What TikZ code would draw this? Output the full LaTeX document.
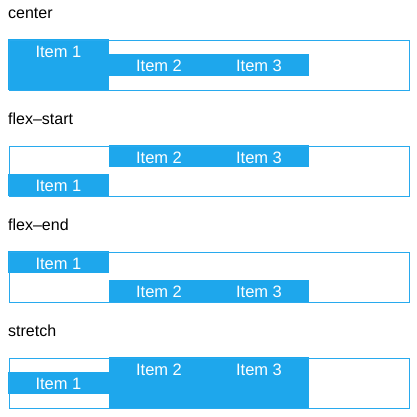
\documentclass[tikz,border=0pt]{standalone}
\usepackage{fontspec}
\setmainfont{Liberation Sans}
\definecolor{itemblue}{RGB}{30,167,236}
\definecolor{borderblue}{RGB}{40,170,238}
\tikzset{
  itembox/.style={fill=itemblue, draw=none, inner sep=0pt, anchor=north west},
  container/.style={draw=borderblue, line width=1pt, inner sep=0pt, anchor=north west, minimum width=400pt, minimum height=50pt},
  itemtext/.style={text=white, anchor=base, inner sep=0pt, font=\fontsize{16.5}{19}\selectfont},
  heading/.style={text=black, anchor=base west, inner sep=0pt, font=\fontsize{16}{19}\selectfont}
}
\begin{document}
\begin{tikzpicture}[x=1pt,y=-1pt]
\useasboundingbox (0,0) rectangle (417,416);

% ---------- center ----------
\node[heading] (h1) at (8,18.3) {center};
\node[itembox, minimum width=101pt, minimum height=51pt] (c1i1) at (8,39) {};
\node[itembox, minimum width=200pt, minimum height=22pt] (c1i23) at (109,54) {};
\node[container] (c1) at (8.5,39.5) {};
\node[itemtext] (c1t1) at (58.5,57) {Item 1};
\node[itemtext] (c1t2) at (159,71) {Item 2};
\node[itemtext] (c1t3) at (259,71) {Item 3};

% ---------- flex-start ----------
\node[heading] (h2) at (8,124) {flex–start};
\node[itembox, minimum width=101pt, minimum height=22pt] (c2i1) at (8,174) {};
\node[itembox, minimum width=200pt, minimum height=22pt] (c2i23) at (109,145) {};
\node[container] (c2) at (8.5,145.5) {};
\node[itemtext] (c2t1) at (58.5,191) {Item 1};
\node[itemtext] (c2t2) at (159,163) {Item 2};
\node[itemtext] (c2t3) at (259,163) {Item 3};

% ---------- flex-end ----------
\node[heading] (h3) at (8,230) {flex–end};
\node[itembox, minimum width=101pt, minimum height=22pt] (c3i1) at (8,251) {};
\node[itembox, minimum width=200pt, minimum height=22pt] (c3i23) at (109,280) {};
\node[container] (c3) at (8.5,251.5) {};
\node[itemtext] (c3t1) at (58.5,269) {Item 1};
\node[itemtext] (c3t2) at (159,297) {Item 2};
\node[itemtext] (c3t3) at (259,297) {Item 3};

% ---------- stretch ----------
\node[heading] (h4) at (8,336) {stretch};
\node[itembox, minimum width=101pt, minimum height=22pt] (c4i1) at (8,372) {};
\node[itembox, minimum width=200pt, minimum height=51pt] (c4i23) at (109,357) {};
\node[container] (c4) at (8.5,357.5) {};
\node[itemtext] (c4t1) at (58.5,389) {Item 1};
\node[itemtext] (c4t2) at (159,375) {Item 2};
\node[itemtext] (c4t3) at (259,375) {Item 3};
\end{tikzpicture}
\end{document}
